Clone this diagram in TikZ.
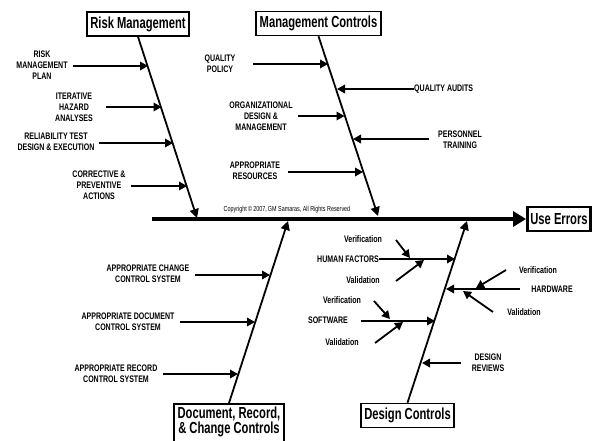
\documentclass[tikz,border=0pt]{standalone}
\usepackage{fontspec}
\setmainfont{Liberation Sans}
\newfontfamily\lblf{Liberation Sans}[FakeStretch=0.74]
\newfontfamily\ttlf{Liberation Sans}[FakeStretch=0.70]
\usetikzlibrary{arrows.meta}
\tikzset{
  lbl/.style={font=\lblf\bfseries\fontsize{9.5}{11}\selectfont, align=center, inner sep=0pt},
  cpr/.style={font=\lblf\fontsize{7.3}{8}\selectfont, inner sep=0pt},
  ttl/.style={draw, line width=1.6pt, font=\ttlf\bfseries\fontsize{16}{15}\selectfont, align=center, inner xsep=3pt, inner ysep=2pt, minimum height=24pt},
  br/.style={line width=1.8pt, -{Triangle[length=8pt,width=8.5pt]}},
  bonearr/.style={line width=1.8pt, -{Triangle[length=9pt,width=9pt]}},
  spine/.style={line width=4pt, -{Triangle[length=13pt,width=15pt]}},
}
\begin{document}
\begin{tikzpicture}[x=1pt,y=-1pt]
\clip (0,0) rectangle (597,440);
\fill[white] (0,0) rectangle (597,440);

% category boxes
\node[ttl, minimum width=102pt] (risk) at (138,24) {Risk Management};
\node[ttl, minimum width=125pt] (mgmt) at (318.5,23.5) {Management Controls};
\node[ttl, minimum width=62pt, line width=2.6pt] (use) at (559,219) {Use Errors};
\node[ttl, minimum width=93pt] (des) at (407.5,415.5) {Design Controls};
\node[ttl, minimum width=110pt, minimum height=0pt, anchor=north, inner ysep=3pt, text depth=8pt] (doc) at (229,403) {Document, Record,\\\& Change Controls};

% spine
\coordinate (spS) at (152,219);
\draw[spine] (spS) -- (use.west);

% bones
\coordinate (riskE) at (197,218);
\coordinate (mgmtE) at (378,216);
\coordinate (docE) at (288,221);
\coordinate (desE) at (467,221);
\draw[bonearr] (risk.south) -- (riskE);
\draw[bonearr] (mgmt.south) -- (mgmtE);
\draw[bonearr] (doc.north) -- (docE);
\draw[bonearr] (des.north) -- (desE);

\node[cpr] (copy) at (287,210) {Copyright\,\copyright\,2007,\,GM Samaras, All Rights Reserved};

% Risk Management causes
\node[lbl] (rmp) at (42,65) {RISK\\MANAGEMENT\\PLAN};
\coordinate (rmpS) at (73,66); \coordinate (rmpE) at (148,66);
\draw[br] (rmpS) -- (rmpE);
\node[lbl] (iha) at (74,107) {ITERATIVE\\HAZARD\\ANALYSES};
\coordinate (ihaS) at (106,107); \coordinate (ihaE) at (161.5,107);
\draw[br] (ihaS) -- (ihaE);
\node[lbl] (rel) at (56,142) {RELIABILITY TEST\\DESIGN \& EXECUTION};
\coordinate (relS) at (99,143); \coordinate (relE) at (173,143);
\draw[br] (relS) -- (relE);
\node[lbl] (cpa) at (99,185) {CORRECTIVE \&\\PREVENTIVE\\ACTIONS};
\coordinate (cpaS) at (131,186); \coordinate (cpaE) at (187,186);
\draw[br] (cpaS) -- (cpaE);

% Management Controls causes
\node[lbl] (qp) at (220,63.5) {QUALITY\\POLICY};
\coordinate (qpS) at (253,64); \coordinate (qpE) at (328,64);
\draw[br] (qpS) -- (qpE);
\node[lbl, anchor=west] (qa) at (414,89) {QUALITY AUDITS};
\coordinate (qaE) at (337,89);
\draw[br] (qa.west) -- (qaE);
\node[lbl] (org) at (261,116) {ORGANIZATIONAL\\DESIGN \&\\MANAGEMENT};
\coordinate (orgS) at (298,116); \coordinate (orgE) at (344.5,116);
\draw[br] (orgS) -- (orgE);
\node[lbl] (pt) at (460,139.5) {PERSONNEL\\TRAINING};
\coordinate (ptS) at (429,139); \coordinate (ptE) at (353,139);
\draw[br] (ptS) -- (ptE);
\node[lbl] (ar) at (255,170.5) {APPROPRIATE\\RESOURCES};
\coordinate (arS) at (288,172); \coordinate (arE) at (363,172);
\draw[br] (arS) -- (arE);

% Document controls causes
\node[lbl] (acc) at (148,274) {APPROPRIATE CHANGE\\CONTROL SYSTEM};
\coordinate (accS) at (195,275); \coordinate (accE) at (270,275);
\draw[br] (accS) -- (accE);
\node[lbl] (adc) at (128,321.5) {APPROPRIATE DOCUMENT\\CONTROL SYSTEM};
\coordinate (adcS) at (180,322); \coordinate (adcE) at (255,322);
\draw[br] (adcS) -- (adcE);
\node[lbl] (arc) at (116,373.5) {APPROPRIATE RECORD\\CONTROL SYSTEM};
\coordinate (arcS) at (163,374); \coordinate (arcE) at (238,374);
\draw[br] (arcS) -- (arcE);

% Design controls causes
\node[lbl, anchor=east] (hf) at (379,259) {HUMAN FACTORS};
\coordinate (hfE) at (455,259);
\draw[br] (hf.east) -- (hfE);
\node[lbl] (hfver) at (363,239) {Verification};
\coordinate (hfverS) at (396,240); \coordinate (hfverE) at (410,258);
\draw[br] (hfverS) -- (hfverE);
\node[lbl] (hfval) at (363,280) {Validation};
\coordinate (hfvalS) at (396,281); \coordinate (hfvalE) at (424,260);
\draw[br] (hfvalS) -- (hfvalE);

\node[lbl] (hw) at (552,289) {HARDWARE};
\coordinate (hwS) at (520,289); \coordinate (hwE) at (446,289);
\draw[br] (hwS) -- (hwE);
\node[lbl] (hwver) at (538,270) {Verification};
\coordinate (hwverS) at (506,270); \coordinate (hwverE) at (476,288);
\draw[br] (hwverS) -- (hwverE);
\node[lbl] (hwval) at (524,312) {Validation};
\coordinate (hwvalS) at (493,312); \coordinate (hwvalE) at (463,291);
\draw[br] (hwvalS) -- (hwvalE);

\node[lbl] (sw) at (328,320) {SOFTWARE};
\coordinate (swS) at (361,321); \coordinate (swE) at (435,321);
\draw[br] (swS) -- (swE);
\node[lbl] (swver) at (342,300) {Verification};
\coordinate (swverS) at (374,301); \coordinate (swverE) at (390,319);
\draw[br] (swverS) -- (swverE);
\node[lbl] (swval) at (342,342) {Validation};
\coordinate (swvalS) at (375,343); \coordinate (swvalE) at (403,322);
\draw[br] (swvalS) -- (swvalE);

\node[lbl] (dr) at (488,362.5) {DESIGN\\REVIEWS};
\coordinate (drS) at (461,363); \coordinate (drE) at (422,363);
\draw[br] (drS) -- (drE);
\end{tikzpicture}
\end{document}
